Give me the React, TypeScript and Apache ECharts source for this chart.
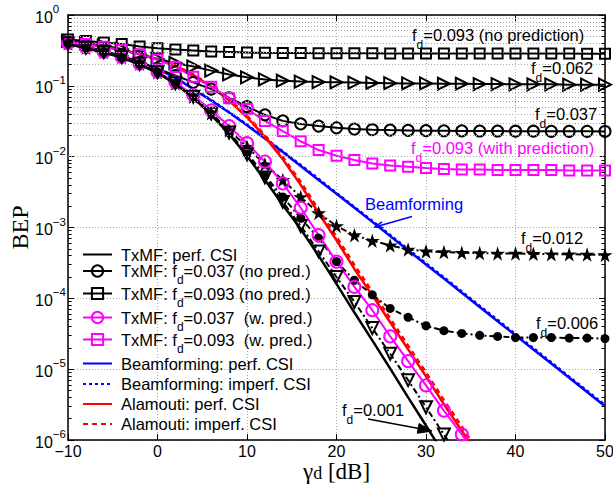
import React, { useEffect, useRef } from 'react';
import * as echarts from 'echarts';

const SNR_DB = [-10, -8, -6, -4, -2, 0, 2, 4, 6, 8, 10, 12, 14, 16, 18, 20, 22, 24, 26, 28, 30, 32, 34, 36, 38, 40, 42, 44, 46, 48, 50];

const TXMF_PERF = [0.39, 0.34, 0.295, 0.25, 0.2, 0.152, 0.106, 0.068, 0.039, 0.021, 0.0102, 0.0047, 0.00208, 0.00095, 0.0004, 0.00016, 6.3e-5, 2.55e-5, 1.02e-5, 4.0e-6, 1.6e-6, 6.3e-7, null, null, null, null, null, null, null, null, null];
const TXMF_037_NOPRED = [0.41, 0.36, 0.31, 0.265, 0.215, 0.175, 0.14, 0.112, 0.09, 0.068, 0.051, 0.039, 0.032, 0.029, 0.027, 0.0255, 0.0245, 0.024, 0.0237, 0.0235, 0.0233, 0.0232, 0.0231, 0.023, 0.023, 0.0229, 0.0229, 0.0228, 0.0228, 0.0228, 0.0227];
const TXMF_093_NOPRED = [0.45, 0.43, 0.41, 0.39, 0.36, 0.34, 0.325, 0.315, 0.305, 0.3, 0.295, 0.292, 0.29, 0.29, 0.289, 0.289, 0.288, 0.288, 0.287, 0.287, 0.287, 0.286, 0.286, 0.286, 0.285, 0.285, 0.285, 0.285, 0.285, 0.284, 0.284];
const TXMF_037_PRED = [0.4, 0.35, 0.3, 0.255, 0.205, 0.158, 0.112, 0.074, 0.045, 0.027, 0.0155, 0.0085, 0.0042, 0.0019, 0.00078, 0.00033, 0.000145, 6.8e-5, 2.9e-5, 1.3e-5, 5.9e-6, 2.6e-6, 1.2e-6, 5.3e-7, null, null, null, null, null, null, null];
const TXMF_093_PRED = [0.42, 0.39, 0.355, 0.32, 0.28, 0.235, 0.185, 0.134, 0.097, 0.067, 0.047, 0.032, 0.023, 0.0165, 0.0124, 0.0103, 0.009, 0.008, 0.0075, 0.0072, 0.0069, 0.0067, 0.0066, 0.0066, 0.0065, 0.0065, 0.0065, 0.0065, 0.0064, 0.0064, 0.0064];
const BF_PERF = [0.39, 0.35, 0.305, 0.26, 0.218, 0.175, 0.13, 0.09, 0.062, 0.042, 0.0277, 0.018, 0.0116, 0.0074, 0.0047, 0.003, 0.0019, 0.0012, 7.55e-4, 4.76e-4, 3.0e-4, 1.9e-4, 1.2e-4, 7.55e-5, 4.76e-5, 3.0e-5, 1.9e-5, 1.2e-5, 7.55e-6, 4.76e-6, 3.0e-6];
const BF_IMPERF = [0.39, 0.35, 0.305, 0.26, 0.218, 0.176, 0.131, 0.092, 0.064, 0.043, 0.0285, 0.0186, 0.012, 0.0077, 0.0049, 0.0031, 0.00197, 0.00125, 7.9e-4, 5.0e-4, 3.15e-4, 2.0e-4, 1.26e-4, 7.9e-5, 5.0e-5, 3.15e-5, 2.0e-5, 1.26e-5, 7.9e-6, 5.0e-6, 3.15e-6];
const ALA_PERF = [0.41, 0.385, 0.355, 0.32, 0.28, 0.235, 0.19, 0.142, 0.098, 0.062, 0.036, 0.019, 0.0092, 0.004, 0.0016, 6.6e-4, 2.6e-4, 1.1e-4, 4.6e-5, 1.9e-5, 7.9e-6, 3.2e-6, 1.35e-6, 5.5e-7, null, null, null, null, null, null, null];
const ALA_IMPERF = [0.41, 0.385, 0.355, 0.32, 0.28, 0.237, 0.193, 0.145, 0.101, 0.065, 0.038, 0.0202, 0.0099, 0.0044, 0.00178, 7.4e-4, 2.95e-4, 1.24e-4, 5.2e-5, 2.15e-5, 9.0e-6, 3.65e-6, 1.55e-6, 6.3e-7, null, null, null, null, null, null, null];
const FD062 = [0.43, 0.4, 0.37, 0.33, 0.28, 0.24, 0.21, 0.188, 0.164, 0.145, 0.132, 0.123, 0.118, 0.115, 0.113, 0.112, 0.111, 0.11, 0.109, 0.108, 0.108, 0.107, 0.107, 0.106, 0.106, 0.105, 0.105, 0.105, 0.104, 0.104, 0.104];
const FD012 = [0.4, 0.345, 0.3, 0.255, 0.205, 0.155, 0.108, 0.07, 0.041, 0.0234, 0.0138, 0.0078, 0.0047, 0.0027, 0.0016, 0.00105, 7.8e-4, 6.5e-4, 5.6e-4, 4.9e-4, 4.6e-4, 4.5e-4, 4.4e-4, 4.35e-4, 4.3e-4, 4.3e-4, 4.25e-4, 4.2e-4, 4.2e-4, 4.15e-4, 4.1e-4];
const FD006 = [0.4, 0.345, 0.3, 0.255, 0.205, 0.155, 0.108, 0.0695, 0.0402, 0.0218, 0.0112, 0.0054, 0.0027, 0.00135, 7.1e-4, 3.3e-4, 1.8e-4, 1.12e-4, 7.2e-5, 5.4e-5, 4.1e-5, 3.5e-5, 3.2e-5, 3.0e-5, 2.9e-5, 2.8e-5, 2.8e-5, 2.8e-5, 2.75e-5, 2.75e-5, 2.7e-5];
const FD001 = [0.4, 0.345, 0.3, 0.255, 0.205, 0.156, 0.109, 0.07, 0.0405, 0.022, 0.0108, 0.0051, 0.0023, 0.00105, 0.00046, 0.0002, 8.9e-5, 3.8e-5, 1.65e-5, 7.0e-6, 2.9e-6, 1.2e-6, 5.0e-7, null, null, null, null, null, null, null, null];

const LEGEND_NAMES = [
  'TxMF: perf. CSI',
  'TxMF: fd=0.037 (no pred.)',
  'TxMF: fd=0.093 (no pred.)',
  'TxMF: fd=0.037  (w. pred.)',
  'TxMF: fd=0.093  (w. pred.)',
  'Beamforming: perf. CSI',
  'Beamforming: imperf. CSI',
  'Alamouti: perf. CSI',
  'Alamouti: imperf. CSI',
];
const LEGEND_Y = [254, 271, 293.5, 317.5, 339.5, 363, 383.5, 403.5, 423.5];

const X_MIN = -10;
const X_MAX = 50;
const Y_MIN = 1e-6;
const Y_MAX = 1;

const STAR = 'path://M50,2 L61,37 L98,37 L68,59 L79,95 L50,73 L21,95 L32,59 L2,37 L39,37 Z';
const TRI_RIGHT = 'path://M0,0 L100,50 L0,100 Z';
const TRI_DOWN = 'path://M0,0 L100,0 L50,100 Z';

const BLACK = '#000000';
const MAGENTA = '#ff00ff';
const BLUE = '#0000ff';
const RED = '#ff0000';
const CLEAR = 'rgba(0,0,0,0)';
const SANS = '"Liberation Sans", Arial, sans-serif';
const SERIF = '"Liberation Serif", "Times New Roman", serif';

function mk(name: string, vals: (number | null)[], color: string, o: any = {}) {
  const hasSym = !!o.symbol;
  let itemStyle: any;
  if (!hasSym) itemStyle = { color: CLEAR, borderColor: CLEAR, borderWidth: 0 };
  else if (o.hollow) itemStyle = { color: CLEAR, borderColor: color, borderWidth: 2 };
  else itemStyle = { color, borderColor: color, borderWidth: 0 };
  return {
    type: 'line',
    name,
    data: SNR_DB.map((x, i) => [x, vals[i]]).filter((p) => p[1] != null),
    symbol: hasSym ? o.symbol : 'none',
    symbolSize: o.size ?? 10,
    symbolKeepAspect: true,
    showSymbol: hasSym,
    itemStyle,
    lineStyle: { color, width: o.width ?? 2, type: o.type ?? 'solid' },
    z: o.z ?? 3,
    clip: true,
    silent: true,
    emphasis: { disabled: true },
  };
}

const MINOR: number[] = [];
for (let e = -6; e < 0; e++) for (let m = 2; m <= 9; m++) MINOR.push(m * Math.pow(10, e));

const GRID_LINE = { color: '#a8a8a8', width: 1, type: [1, 2] as any };

function annRich(c: string) {
  return {
    m: { fontFamily: SANS, fontSize: 16.5, lineHeight: 32, fill: c },
    d: { fontFamily: SANS, fontSize: 12, lineHeight: 14, verticalAlign: 'bottom', fill: c },
  };
}
function ann(x: number, y: number, rest: string, c = BLACK) {
  return {
    type: 'text',
    x,
    y,
    silent: true,
    z: 20,
    style: {
      text: `{m|f}{d|d}{m|${rest}}`,
      rich: annRich(c),
      fill: c,
      font: `16.5px ${SANS}`,
      align: 'left',
      verticalAlign: 'middle',
    },
  };
}

export default function App() {
  const ref = useRef<HTMLDivElement>(null);
  useEffect(() => {
    document.body.style.margin = '0';
    const chart = echarts.init(ref.current!, null, { renderer: 'svg', width: 613, height: 484 });

    const series: any[] = [
      {
        type: 'line',
        name: 'minor-grid',
        data: [],
        silent: true,
        z: 1,
        markLine: {
          silent: true,
          symbol: ['none', 'none'],
          label: { show: false },
          animation: false,
          lineStyle: GRID_LINE,
          data: MINOR.map((v) => ({ yAxis: v })),
        },
      },
      {
        type: 'line',
        name: 'minor-ticks',
        data: [],
        silent: true,
        z: 2,
        markLine: {
          silent: true,
          symbol: ['none', 'none'],
          label: { show: false },
          animation: false,
          lineStyle: { color: BLACK, width: 1, type: 'solid' },
          data: MINOR.flatMap((v) => [
            [{ coord: [X_MIN, v] }, { coord: [X_MIN + 0.4, v] }],
            [{ coord: [X_MAX - 0.4, v] }, { coord: [X_MAX, v] }],
          ]),
        },
      },
      mk('Beamforming: perf. CSI', BF_PERF, BLUE, { width: 2.5 }),
      mk('Beamforming: imperf. CSI', BF_IMPERF, BLUE, { width: 2, type: [3, 3] }),
      mk('Alamouti: perf. CSI', ALA_PERF, RED, { width: 2.5 }),
      mk('Alamouti: imperf. CSI', ALA_IMPERF, RED, { width: 2.5, type: [5, 4] }),
      mk('TxMF: fd=0.093 (no pred.)', TXMF_093_NOPRED, BLACK, { symbol: 'rect', size: 10, hollow: true }),
      mk('fd=0.062', FD062, BLACK, { symbol: TRI_RIGHT, size: 12, hollow: true }),
      mk('TxMF: fd=0.037 (no pred.)', TXMF_037_NOPRED, BLACK, { symbol: 'circle', size: 11, hollow: true }),
      mk('TxMF: fd=0.093  (w. pred.)', TXMF_093_PRED, MAGENTA, { symbol: 'rect', size: 10, hollow: true }),
      mk('fd=0.012', FD012, BLACK, { symbol: STAR, size: 15, type: [6, 3, 2, 3] }),
      mk('fd=0.006', FD006, BLACK, { symbol: 'circle', size: 9, type: [6, 3, 2, 3] }),
      mk('TxMF: fd=0.037  (w. pred.)', TXMF_037_PRED, MAGENTA, { symbol: 'circle', size: 12, hollow: true }),
      mk('fd=0.001', FD001, BLACK, { symbol: TRI_DOWN, size: 12, hollow: true, type: [6, 3, 2, 3] }),
      mk('TxMF: perf. CSI', TXMF_PERF, BLACK, { width: 2.5, z: 4 }),
    ];

    const legend = LEGEND_NAMES.map((n, i) => {
      const hasSub = n.indexOf('fd=') >= 0;
      const lh = hasSub ? 30 : 16;
      return {
        data: [n],
        left: 82,
        top: LEGEND_Y[i] - lh / 2,
        orient: 'vertical',
        padding: 0,
        itemWidth: 29,
        itemHeight: 14,
        selectedMode: false,
        backgroundColor: 'transparent',
        formatter: (name: string) => name.replace('fd=', 'f{d|d}='),
        textStyle: {
          fontFamily: SANS,
          fontSize: 16.5,
          color: BLACK,
          lineHeight: lh,
          padding: [0, 0, 0, 4],
          rich: {
            d: { fontFamily: SANS, fontSize: 12, lineHeight: 14, verticalAlign: 'bottom', color: BLACK },
          },
        },
      };
    });

    const axisLine = { show: true, onZero: false, lineStyle: { color: BLACK, width: 1.5 } };

    const option: any = {
      animation: false,
      backgroundColor: '#ffffff',
      grid: { left: 68, right: 8, top: 15, bottom: 44, containLabel: false, outerBoundsMode: 'none' },
      legend,
      xAxis: [
        {
          type: 'value',
          min: X_MIN,
          max: X_MAX,
          interval: 10,
          position: 'bottom',
          axisLine,
          axisTick: { show: true, inside: true, length: 6, lineStyle: { color: BLACK, width: 1 } },
          axisLabel: {
            color: BLACK,
            fontFamily: SANS,
            fontSize: 16,
            margin: 3,
            formatter: (v: number) => (v < 0 ? '\u2212' + -v : String(v)),
          },
          splitLine: { show: true, lineStyle: GRID_LINE },
          name: '\u03b3{s|d} [dB]',
          nameLocation: 'middle',
          nameGap: 20,
          nameMoveOverlap: false,
          nameTextStyle: {
            fontFamily: SERIF,
            fontSize: 23,
            color: BLACK,
            lineHeight: 22,
            rich: { s: { fontFamily: SERIF, fontSize: 18, lineHeight: 18, verticalAlign: 'bottom', color: BLACK } },
          },
        },
        {
          type: 'value',
          min: X_MIN,
          max: X_MAX,
          interval: 10,
          position: 'top',
          axisLine,
          axisTick: { show: true, inside: true, length: 6, lineStyle: { color: BLACK, width: 1 } },
          axisLabel: { show: false },
          splitLine: { show: false },
        },
      ],
      yAxis: [
        {
          type: 'log',
          logBase: 10,
          min: Y_MIN,
          max: Y_MAX,
          position: 'left',
          axisLine,
          axisTick: { show: true, inside: true, length: 6, lineStyle: { color: BLACK, width: 1 } },
          axisLabel: {
            color: BLACK,
            align: 'left',
            margin: 33,
            padding: [4, 0, 0, 0],
            formatter: (v: number) => {
              const e = Math.round(Math.log10(v));
              return `{b|10}{s|${e === 0 ? '0' : '\u2212' + -e}}`;
            },
            rich: {
              b: { fontFamily: SANS, fontSize: 16, lineHeight: 28, color: BLACK },
              s: { fontFamily: SANS, fontSize: 11.5, lineHeight: 13, verticalAlign: 'top', color: BLACK },
            },
          },
          splitLine: { show: true, lineStyle: GRID_LINE },
          name: 'BEP',
          nameLocation: 'middle',
          nameGap: 36,
          nameMoveOverlap: false,
          nameRotate: 90,
          nameTextStyle: { fontFamily: SERIF, fontSize: 24, color: BLACK },
        },
        {
          type: 'log',
          logBase: 10,
          min: Y_MIN,
          max: Y_MAX,
          position: 'right',
          axisLine,
          axisTick: { show: true, inside: true, length: 6, lineStyle: { color: BLACK, width: 1 } },
          axisLabel: { show: false },
          splitLine: { show: false },
        },
      ],
      series,
      graphic: [
        ann(412, 35, '=0.093 (no prediction)'),
        ann(531, 68, '=0.062'),
        ann(535, 114, '=0.037'),
        ann(411, 148, '=0.093 (with prediction)', MAGENTA),
        ann(521, 238, '=0.012'),
        ann(536, 323, '=0.006'),
        ann(342, 410, '=0.001'),
        {
          type: 'text',
          x: 365,
          y: 204,
          silent: true,
          z: 20,
          style: { text: 'Beamforming', fill: BLUE, font: `16.5px ${SANS}`, verticalAlign: 'middle', align: 'left' },
        },
        {
          type: 'line',
          silent: true,
          z: 20,
          shape: { x1: 412, y1: 216.5, x2: 376, y2: 226.8 },
          style: { stroke: BLUE, lineWidth: 1.5 },
        },
        {
          type: 'polyline',
          silent: true,
          z: 20,
          shape: { points: [[382, 221.9], [375, 227], [383.5, 227.7]] },
          style: { stroke: BLUE, lineWidth: 1.5, fill: 'none' },
        },
        {
          type: 'line',
          silent: true,
          z: 20,
          shape: { x1: 368, y1: 419, x2: 419, y2: 428.5 },
          style: { stroke: BLACK, lineWidth: 1.5 },
        },
        {
          type: 'polygon',
          silent: true,
          z: 20,
          shape: { points: [[432, 431], [419.1, 423.5], [417.3, 433.3]] },
          style: { fill: BLACK, stroke: BLACK, lineWidth: 1 },
        },
      ],
    };

    chart.setOption(option);
    return () => chart.dispose();
  }, []);
  return <div ref={ref} style={{ width: 613, height: 484 }} />;
}
